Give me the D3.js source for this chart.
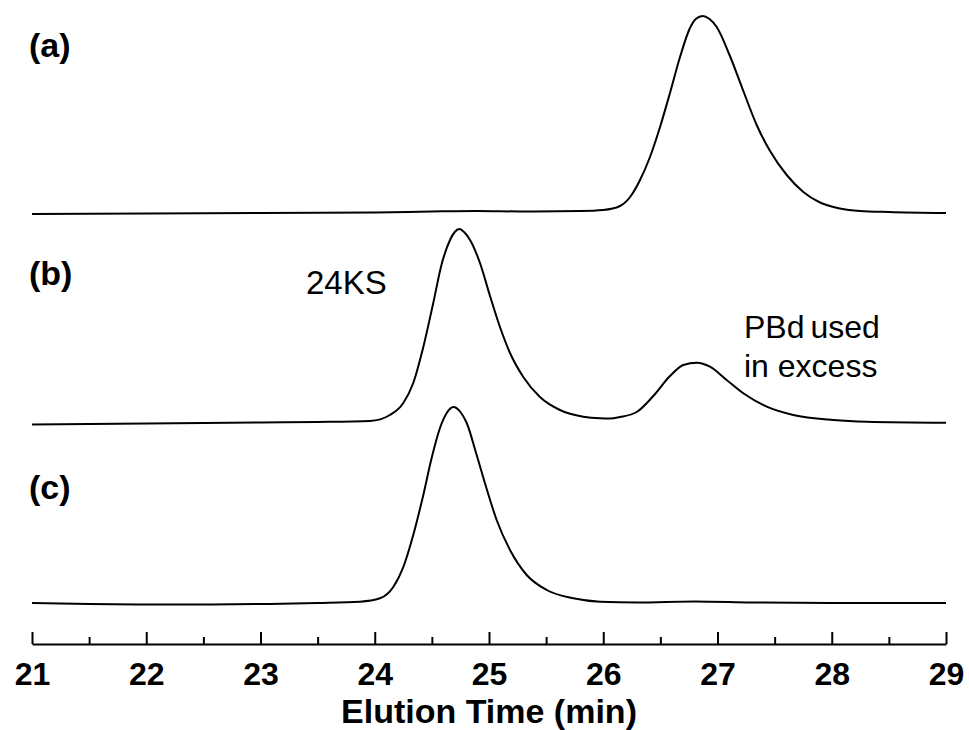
<!DOCTYPE html>
<html>
<head>
<meta charset="utf-8">
<script src="https://cdn.jsdelivr.net/npm/d3@7"></script>
<style>
  body { margin: 0; background: #fff; }
  svg { display: block; }
  .trace { fill: none; stroke: #000; stroke-width: 2; }
</style>
</head>
<body>
<svg id="chart" width="969" height="730"></svg>
<script>
// elution time (min) and detector signal for each trace, signal relative to own baseline
var timeA = [21.0, 22.0, 23.0, 24.0, 24.5, 24.9, 25.3, 25.8, 26.0, 26.147, 26.235, 26.322, 26.409, 26.497, 26.584, 26.672, 26.759, 26.81, 26.87, 26.93, 26.993, 27.109, 27.226, 27.343, 27.46, 27.606, 27.751, 27.897, 28.072, 28.247, 28.5, 29.0];
var signalA = [-1, -0.5, 0, 0.5, 1.5, 2, 1.5, 2, 3, 7, 16, 33, 56, 86, 120, 156, 185, 194, 197, 194, 186, 157, 122, 88, 62, 38, 21, 10.5, 4.5, 2, 1, 0];

var timeB = [21.0, 22.0, 23.0, 23.5, 23.958, 24.133, 24.25, 24.337, 24.425, 24.512, 24.586, 24.659, 24.70, 24.74, 24.79, 24.834, 24.921, 25.009, 25.096, 25.184, 25.3, 25.446, 25.621, 25.825, 25.971, 26.059, 26.147, 26.293, 26.438, 26.584, 26.701, 26.818, 26.934, 27.08, 27.226, 27.431, 27.663, 28.014, 28.306, 29.0];
var signalB = [0.5, 1.5, 2.5, 3, 4, 10, 22, 42, 78, 122, 161, 185, 193, 196, 192, 185, 162, 129, 98, 72, 48, 28, 15, 8.3, 6.7, 6.5, 8, 13, 29, 49, 60, 62.3, 58.3, 45, 31.7, 18.3, 10, 5, 3.3, 2.3];

var timeC = [21.0, 21.5, 22.0, 22.5, 23.0, 23.5, 23.871, 24.046, 24.162, 24.25, 24.337, 24.425, 24.498, 24.571, 24.63, 24.688, 24.75, 24.805, 24.892, 24.98, 25.067, 25.184, 25.33, 25.505, 25.738, 25.972, 26.3, 26.8, 27.3, 28.0, 29.0];
var signalC = [0, -1, -1.5, -1.5, -1, 0, 1.3, 4.7, 16, 36, 68, 108, 145, 175, 190, 196, 191, 180, 148, 114, 83, 53, 28, 13, 4.7, 1.3, 0.5, 1.5, 0.5, 0, 0];

// vertical stacking offsets of the three traces
var offsets = [427, 215, 37];
var panelLabels = ["(a)", "(b)", "(c)"];
var majorTicks = [21, 22, 23, 24, 25, 26, 27, 28, 29];
var minorTicks = [21.5, 22.5, 23.5, 24.5, 25.5, 26.5, 27.5, 28.5];

var svg = d3.select("#chart");

var x = d3.scaleLinear().domain([21, 29]).range([32, 946]);
var y = d3.scaleLinear().domain([0, 630]).range([640, 10]);

var line = d3.line()
	.x(function(d) { return x(d[0]); })
	.y(function(d) { return y(d[1]); })
	.curve(d3.curveMonotoneX);

var traces = [[timeA, signalA], [timeB, signalB], [timeC, signalC]];
traces.forEach(function(t, i) {
	var pts = t[0].map(function(tm, j) { return [tm, t[1][j] + offsets[i]]; });
	svg.append("path")
		.attr("class", "trace")
		.attr("d", line(pts));
});

// axis
var axisY = 644;
var font = "'Liberation Sans', Arial, Helvetica, sans-serif";

var gMinor = svg.append("g").attr("transform", "translate(0," + axisY + ")")
	.call(d3.axisBottom(x).tickValues(minorTicks).tickSizeInner(-7).tickSizeOuter(0).tickFormat(""));
gMinor.select(".domain").remove();

var gAxis = svg.append("g").attr("transform", "translate(0," + axisY + ")")
	.call(d3.axisBottom(x).tickValues(majorTicks).tickSizeInner(-12).tickSizeOuter(0).tickPadding(18).tickFormat(d3.format("d")));

svg.selectAll(".domain, .tick line").attr("stroke", "#000").attr("stroke-width", 2);
gAxis.selectAll(".tick text")
	.attr("fill", "#000")
	.style("font-family", font)
	.style("font-size", "32px")
	.style("font-weight", "bold");

svg.append("text")
	.attr("x", 489).attr("y", 723)
	.attr("text-anchor", "middle")
	.style("font-family", font).style("font-size", "34px").style("font-weight", "bold")
	.text("Elution Time (min)");

// panel labels
var labelY = [57, 285, 499];
panelLabels.forEach(function(lbl, i) {
	svg.append("text")
		.attr("x", 29).attr("y", labelY[i])
		.style("font-family", font).style("font-size", "34px").style("font-weight", "bold")
		.text(lbl);
});

// peak annotations
svg.append("text")
	.attr("x", 306).attr("y", 294)
	.style("font-family", font).style("font-size", "33px")
	.text("24KS");

var note = svg.append("text")
	.attr("x", 744).attr("y", 338)
	.style("font-family", font).style("font-size", "32px");
note.append("tspan").attr("x", 744).style("word-spacing", "-3px").text("PBd used");
note.append("tspan").attr("x", 744).attr("y", 377).text("in excess");
</script>
</body>
</html>
